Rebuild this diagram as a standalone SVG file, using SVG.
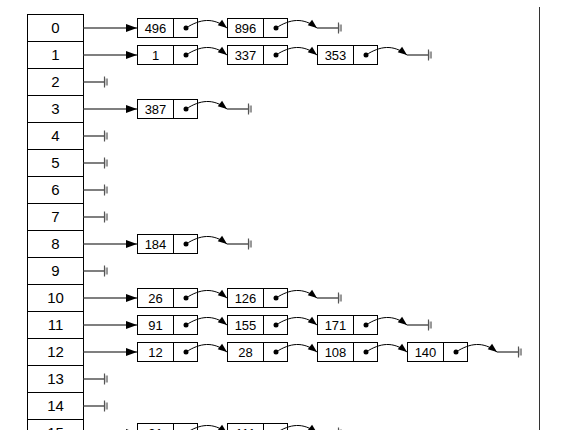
<svg xmlns="http://www.w3.org/2000/svg" xmlns:xlink="http://www.w3.org/1999/xlink" width="563" height="430" viewBox="0 0 563 430">
<style>
.cell{fill:#fff;stroke:#000;stroke-width:1}
.box{fill:#fff;stroke:#000;stroke-width:1}
.idx{font-family:"Liberation Sans",Arial,sans-serif;font-size:15px;text-anchor:middle;fill:#000}
.val{font-family:"Liberation Sans",Arial,sans-serif;font-size:13px;text-anchor:middle;fill:#000}
.ptr{fill:none;stroke:#555;stroke-width:1.3}
.crv{fill:none;stroke:#000;stroke-width:1}
.dot{fill:#000}
</style>
<defs>
<marker id="ah" markerUnits="userSpaceOnUse" markerWidth="12" markerHeight="9" refX="11" refY="4" orient="auto" overflow="visible"><path d="M0,0 L11,4 L0,8 Z" fill="#000"/></marker>
<marker id="ah2" markerUnits="userSpaceOnUse" markerWidth="10" markerHeight="8" refX="9" refY="3.5" orient="auto" overflow="visible"><path d="M0,0 L9,3.5 L0,7 Z" fill="#000"/></marker>
<g id="gnd"><path d="M0.5,-5.5V5.5" stroke="#555" stroke-width="1.2" fill="none"/><rect x="1.5" y="-3.5" width="2.5" height="7" fill="#999"/></g>
</defs>
<rect width="563" height="430" fill="#fff"/>
<line x1="539.5" y1="7" x2="539.5" y2="430" stroke="#333" stroke-width="1"/>

<g id="table">
<g id="cell0"><rect class="cell" x="27.5" y="14.5" width="56" height="27"/><text class="idx" x="55.5" y="33">0</text></g>
<g id="cell1"><rect class="cell" x="27.5" y="41.5" width="56" height="27"/><text class="idx" x="55.5" y="60">1</text></g>
<g id="cell2"><rect class="cell" x="27.5" y="68.5" width="56" height="27"/><text class="idx" x="55.5" y="87">2</text></g>
<g id="cell3"><rect class="cell" x="27.5" y="95.5" width="56" height="27"/><text class="idx" x="55.5" y="114">3</text></g>
<g id="cell4"><rect class="cell" x="27.5" y="122.5" width="56" height="27"/><text class="idx" x="55.5" y="141">4</text></g>
<g id="cell5"><rect class="cell" x="27.5" y="149.5" width="56" height="27"/><text class="idx" x="55.5" y="168">5</text></g>
<g id="cell6"><rect class="cell" x="27.5" y="176.5" width="56" height="27"/><text class="idx" x="55.5" y="195">6</text></g>
<g id="cell7"><rect class="cell" x="27.5" y="203.5" width="56" height="27"/><text class="idx" x="55.5" y="222">7</text></g>
<g id="cell8"><rect class="cell" x="27.5" y="230.5" width="56" height="27"/><text class="idx" x="55.5" y="249">8</text></g>
<g id="cell9"><rect class="cell" x="27.5" y="257.5" width="56" height="27"/><text class="idx" x="55.5" y="276">9</text></g>
<g id="cell10"><rect class="cell" x="27.5" y="284.5" width="56" height="27"/><text class="idx" x="55.5" y="303">10</text></g>
<g id="cell11"><rect class="cell" x="27.5" y="311.5" width="56" height="27"/><text class="idx" x="55.5" y="330">11</text></g>
<g id="cell12"><rect class="cell" x="27.5" y="338.5" width="56" height="27"/><text class="idx" x="55.5" y="357">12</text></g>
<g id="cell13"><rect class="cell" x="27.5" y="365.5" width="56" height="27"/><text class="idx" x="55.5" y="384">13</text></g>
<g id="cell14"><rect class="cell" x="27.5" y="392.5" width="56" height="27"/><text class="idx" x="55.5" y="411">14</text></g>
<g id="cell15"><rect class="cell" x="27.5" y="419.5" width="56" height="27"/><text class="idx" x="55.5" y="438">15</text></g>
</g>

<g id="nodes">
<g id="n0_0"><rect class="box" x="137.5" y="18.5" width="60" height="19"/><line x1="173.5" y1="18.5" x2="173.5" y2="37.5" stroke="#000"/><text class="val" x="155.5" y="32.5">496</text><circle class="dot" cx="186" cy="28" r="2.5"/></g>
<g id="n0_1"><rect class="box" x="227.5" y="18.5" width="60" height="19"/><line x1="263.5" y1="18.5" x2="263.5" y2="37.5" stroke="#000"/><text class="val" x="245.5" y="32.5">896</text><circle class="dot" cx="276" cy="28" r="2.5"/></g>
<g id="n1_0"><rect class="box" x="137.5" y="45.5" width="60" height="19"/><line x1="173.5" y1="45.5" x2="173.5" y2="64.5" stroke="#000"/><text class="val" x="155.5" y="59.5">1</text><circle class="dot" cx="186" cy="55" r="2.5"/></g>
<g id="n1_1"><rect class="box" x="227.5" y="45.5" width="60" height="19"/><line x1="263.5" y1="45.5" x2="263.5" y2="64.5" stroke="#000"/><text class="val" x="245.5" y="59.5">337</text><circle class="dot" cx="276" cy="55" r="2.5"/></g>
<g id="n1_2"><rect class="box" x="317.5" y="45.5" width="60" height="19"/><line x1="353.5" y1="45.5" x2="353.5" y2="64.5" stroke="#000"/><text class="val" x="335.5" y="59.5">353</text><circle class="dot" cx="366" cy="55" r="2.5"/></g>
<g id="n3_0"><rect class="box" x="137.5" y="99.5" width="60" height="19"/><line x1="173.5" y1="99.5" x2="173.5" y2="118.5" stroke="#000"/><text class="val" x="155.5" y="113.5">387</text><circle class="dot" cx="186" cy="109" r="2.5"/></g>
<g id="n8_0"><rect class="box" x="137.5" y="234.5" width="60" height="19"/><line x1="173.5" y1="234.5" x2="173.5" y2="253.5" stroke="#000"/><text class="val" x="155.5" y="248.5">184</text><circle class="dot" cx="186" cy="244" r="2.5"/></g>
<g id="n10_0"><rect class="box" x="137.5" y="288.5" width="60" height="19"/><line x1="173.5" y1="288.5" x2="173.5" y2="307.5" stroke="#000"/><text class="val" x="155.5" y="302.5">26</text><circle class="dot" cx="186" cy="298" r="2.5"/></g>
<g id="n10_1"><rect class="box" x="227.5" y="288.5" width="60" height="19"/><line x1="263.5" y1="288.5" x2="263.5" y2="307.5" stroke="#000"/><text class="val" x="245.5" y="302.5">126</text><circle class="dot" cx="276" cy="298" r="2.5"/></g>
<g id="n11_0"><rect class="box" x="137.5" y="315.5" width="60" height="19"/><line x1="173.5" y1="315.5" x2="173.5" y2="334.5" stroke="#000"/><text class="val" x="155.5" y="329.5">91</text><circle class="dot" cx="186" cy="325" r="2.5"/></g>
<g id="n11_1"><rect class="box" x="227.5" y="315.5" width="60" height="19"/><line x1="263.5" y1="315.5" x2="263.5" y2="334.5" stroke="#000"/><text class="val" x="245.5" y="329.5">155</text><circle class="dot" cx="276" cy="325" r="2.5"/></g>
<g id="n11_2"><rect class="box" x="317.5" y="315.5" width="60" height="19"/><line x1="353.5" y1="315.5" x2="353.5" y2="334.5" stroke="#000"/><text class="val" x="335.5" y="329.5">171</text><circle class="dot" cx="366" cy="325" r="2.5"/></g>
<g id="n12_0"><rect class="box" x="137.5" y="342.5" width="60" height="19"/><line x1="173.5" y1="342.5" x2="173.5" y2="361.5" stroke="#000"/><text class="val" x="155.5" y="356.5">12</text><circle class="dot" cx="186" cy="352" r="2.5"/></g>
<g id="n12_1"><rect class="box" x="227.5" y="342.5" width="60" height="19"/><line x1="263.5" y1="342.5" x2="263.5" y2="361.5" stroke="#000"/><text class="val" x="245.5" y="356.5">28</text><circle class="dot" cx="276" cy="352" r="2.5"/></g>
<g id="n12_2"><rect class="box" x="317.5" y="342.5" width="60" height="19"/><line x1="353.5" y1="342.5" x2="353.5" y2="361.5" stroke="#000"/><text class="val" x="335.5" y="356.5">108</text><circle class="dot" cx="366" cy="352" r="2.5"/></g>
<g id="n12_3"><rect class="box" x="407.5" y="342.5" width="60" height="19"/><line x1="443.5" y1="342.5" x2="443.5" y2="361.5" stroke="#000"/><text class="val" x="425.5" y="356.5">140</text><circle class="dot" cx="456" cy="352" r="2.5"/></g>
<g id="n15_0"><rect class="box" x="137.5" y="423.5" width="60" height="19"/><line x1="173.5" y1="423.5" x2="173.5" y2="442.5" stroke="#000"/><text class="val" x="155.5" y="437.5">31</text><circle class="dot" cx="186" cy="433" r="2.5"/></g>
<g id="n15_1"><rect class="box" x="227.5" y="423.5" width="60" height="19"/><line x1="263.5" y1="423.5" x2="263.5" y2="442.5" stroke="#000"/><text class="val" x="245.5" y="437.5">111</text><circle class="dot" cx="276" cy="433" r="2.5"/></g>
</g>

<g id="connectors">
<path class="ptr" d="M83.5,28H137" marker-end="url(#ah)"/>
<path class="ptr" d="M83.5,55H137" marker-end="url(#ah)"/>
<path class="ptr" d="M83.5,109H137" marker-end="url(#ah)"/>
<path class="ptr" d="M83.5,244H137" marker-end="url(#ah)"/>
<path class="ptr" d="M83.5,298H137" marker-end="url(#ah)"/>
<path class="ptr" d="M83.5,325H137" marker-end="url(#ah)"/>
<path class="ptr" d="M83.5,352H137" marker-end="url(#ah)"/>
<path class="ptr" d="M83.5,433H137" marker-end="url(#ah)"/>
<path class="ptr" d="M83.5,82H104M83.5,136H104M83.5,163H104M83.5,190H104M83.5,217H104M83.5,271H104M83.5,379H104M83.5,406H104"/>
<use xlink:href="#gnd" x="104" y="82"/>
<use xlink:href="#gnd" x="104" y="136"/>
<use xlink:href="#gnd" x="104" y="163"/>
<use xlink:href="#gnd" x="104" y="190"/>
<use xlink:href="#gnd" x="104" y="217"/>
<use xlink:href="#gnd" x="104" y="271"/>
<use xlink:href="#gnd" x="104" y="379"/>
<use xlink:href="#gnd" x="104" y="406"/>

<path class="crv" d="M186,28C200,19 213,17 227,28" marker-end="url(#ah2)"/>
<path class="crv" d="M276,28C290,19 303,17 317,28" marker-end="url(#ah2)"/>
<path class="crv" d="M317,28H338"/>
<use xlink:href="#gnd" x="338" y="28"/>

<path class="crv" d="M186,55C200,46 213,44 227,55" marker-end="url(#ah2)"/>
<path class="crv" d="M276,55C290,46 303,44 317,55" marker-end="url(#ah2)"/>
<path class="crv" d="M366,55C380,46 393,44 407,55" marker-end="url(#ah2)"/>
<path class="crv" d="M407,55H428"/>
<use xlink:href="#gnd" x="428" y="55"/>

<path class="crv" d="M186,109C200,100 213,98 227,109" marker-end="url(#ah2)"/>
<path class="crv" d="M227,109H248"/>
<use xlink:href="#gnd" x="248" y="109"/>

<path class="crv" d="M186,244C200,235 213,233 227,244" marker-end="url(#ah2)"/>
<path class="crv" d="M227,244H248"/>
<use xlink:href="#gnd" x="248" y="244"/>

<path class="crv" d="M186,298C200,289 213,287 227,298" marker-end="url(#ah2)"/>
<path class="crv" d="M276,298C290,289 303,287 317,298" marker-end="url(#ah2)"/>
<path class="crv" d="M317,298H338"/>
<use xlink:href="#gnd" x="338" y="298"/>

<path class="crv" d="M186,325C200,316 213,314 227,325" marker-end="url(#ah2)"/>
<path class="crv" d="M276,325C290,316 303,314 317,325" marker-end="url(#ah2)"/>
<path class="crv" d="M366,325C380,316 393,314 407,325" marker-end="url(#ah2)"/>
<path class="crv" d="M407,325H428"/>
<use xlink:href="#gnd" x="428" y="325"/>

<path class="crv" d="M186,352C200,343 213,341 227,352" marker-end="url(#ah2)"/>
<path class="crv" d="M276,352C290,343 303,341 317,352" marker-end="url(#ah2)"/>
<path class="crv" d="M366,352C380,343 393,341 407,352" marker-end="url(#ah2)"/>
<path class="crv" d="M456,352C470,343 483,341 497,352" marker-end="url(#ah2)"/>
<path class="crv" d="M497,352H518"/>
<use xlink:href="#gnd" x="518" y="352"/>

<path class="crv" d="M186,433C200,424 213,422 227,433" marker-end="url(#ah2)"/>
<path class="crv" d="M276,433C290,424 303,422 317,433" marker-end="url(#ah2)"/>
<path class="crv" d="M317,433H338"/>
<use xlink:href="#gnd" x="338" y="433"/>
</g>
</svg>
